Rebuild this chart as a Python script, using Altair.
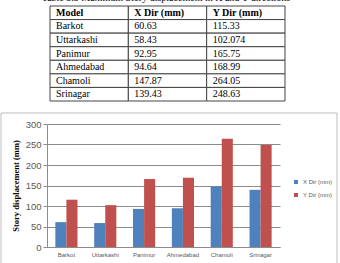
import altair as alt
import pandas as pd

# ---- data ----
models = ["Barkot", "Uttarkashi", "Panimur", "Ahmedabad", "Chamoli", "Srinagar"]
x_dir = [60.63, 58.43, 92.95, 94.64, 147.87, 139.43]
y_dir = [115.33, 102.074, 165.75, 168.99, 264.05, 248.63]
series = ["X Dir (mm)", "Y Dir (mm)"]
header = ["Model", "X Dir (mm)", "Y Dir (mm)"]
caption = "Table 5.3 Maximum Story displacement in X and Y directions"

# long table for bars
bar_rows = []
for m, xv, yv in zip(models, x_dir, y_dir):
    bar_rows.append({"model": m, "series": series[0], "value": xv})
    bar_rows.append({"model": m, "series": series[1], "value": yv})
bars_df = pd.DataFrame(bar_rows)

# long table for the data table
cells = []
for c, h in enumerate(header):
    cells.append({"row": 0, "col": c, "text": h, "bold": 1})
for r, (m, xv, yv) in enumerate(zip(models, x_dir, y_dir), start=1):
    for c, t in enumerate([m, str(xv), str(yv)]):
        cells.append({"row": r, "col": c, "text": t, "bold": 0})
table_df = pd.DataFrame(cells)

one = pd.DataFrame({"k": [0]})

GRID = "#8c8c8c"
LABEL = "#595959"

# ---- chart frame ----
frame = alt.Chart(one).mark_rect(fill="white", fillOpacity=0, stroke="#bdbdbd", strokeWidth=1).encode(
    x=alt.value(-46), x2=alt.value(290), y=alt.value(-11), y2=alt.value(145)
)

# ---- bars ----
bars = alt.Chart(bars_df).mark_bar().encode(
    x=alt.X("model:N", sort=models,
            scale=alt.Scale(paddingInner=0.43, paddingOuter=0.215),
            axis=alt.Axis(title=None, labelAngle=0, labelFontSize=6, labelColor=LABEL,
                          labelFont="Liberation Sans", ticks=False, domainColor=GRID,
                          labelPadding=4, grid=False)),
    xOffset=alt.XOffset("series:N", sort=series),
    y=alt.Y("value:Q", scale=alt.Scale(domain=[0, 300], nice=False),
            axis=alt.Axis(title="Story displacement (mm)", values=[0, 50, 100, 150, 200, 250, 300],
                          grid=True, gridColor=GRID, domainColor=GRID, tickColor=GRID,
                          tickSize=4, labelPadding=2, labelFontSize=9.5, labelColor=LABEL,
                          labelFont="Liberation Sans", titleFont="Liberation Serif",
                          titleFontWeight="bold", titleFontSize=8.5, titleColor="black",
                          titlePadding=5)),
    color=alt.Color("series:N", sort=series,
                    scale=alt.Scale(domain=series, range=["#4F81BD", "#C0504D"]),
                    legend=alt.Legend(title=None, orient="none", legendX=246, legendY=55,
                                      symbolType="square", symbolSize=16, labelFontSize=6,
                                      labelColor=LABEL, labelFont="Liberation Sans",
                                      rowPadding=7, symbolStrokeWidth=0)),
)

# ---- data table ----
col_scale = alt.Scale(domain=[0, 1, 2], range=[3, 238], paddingInner=0, paddingOuter=0)
row_scale = alt.Scale(domain=[0, 1, 2, 3, 4, 5, 6], range=[-118, -23], paddingInner=0, paddingOuter=0)
tx = alt.X("col:O", scale=col_scale, axis=None)
txl = alt.X("col:O", bandPosition=0, scale=col_scale, axis=None)
ty = alt.Y("row:O", scale=row_scale, axis=None)

table_cells = alt.Chart(table_df).mark_rect(fill="white", stroke="#444444", strokeWidth=1).encode(
    x=tx, y=ty
)
table_head = alt.Chart(table_df).transform_filter("datum.bold == 1").mark_text(
    align="left", baseline="middle", dx=6, fontSize=10, fontWeight="bold",
    font="Liberation Serif", color="black").encode(x=txl, y=ty, text="text:N")
table_body = alt.Chart(table_df).transform_filter("datum.bold == 0").mark_text(
    align="left", baseline="middle", dx=6, fontSize=10,
    font="Liberation Serif", color="black").encode(x=txl, y=ty, text="text:N")
table = alt.layer(table_cells, table_head, table_body)

title_text = alt.Chart(one).mark_text(align="center", baseline="bottom", fontSize=10,
                                      font="Liberation Serif", color="black").encode(
    x=alt.value(119), y=alt.value(-121.5), text=alt.value(caption)
)

chart = alt.layer(frame, bars, table, title_text).resolve_scale(
    x="independent", y="independent"
).properties(
    width=233, height=123,
    padding={"left": 47, "top": 124, "right": 60, "bottom": 16},
    autosize=alt.AutoSizeParams(type="none"),
).configure_view(stroke=None)

chart.save("out.html", embed_options={"renderer": "svg", "actions": False})
